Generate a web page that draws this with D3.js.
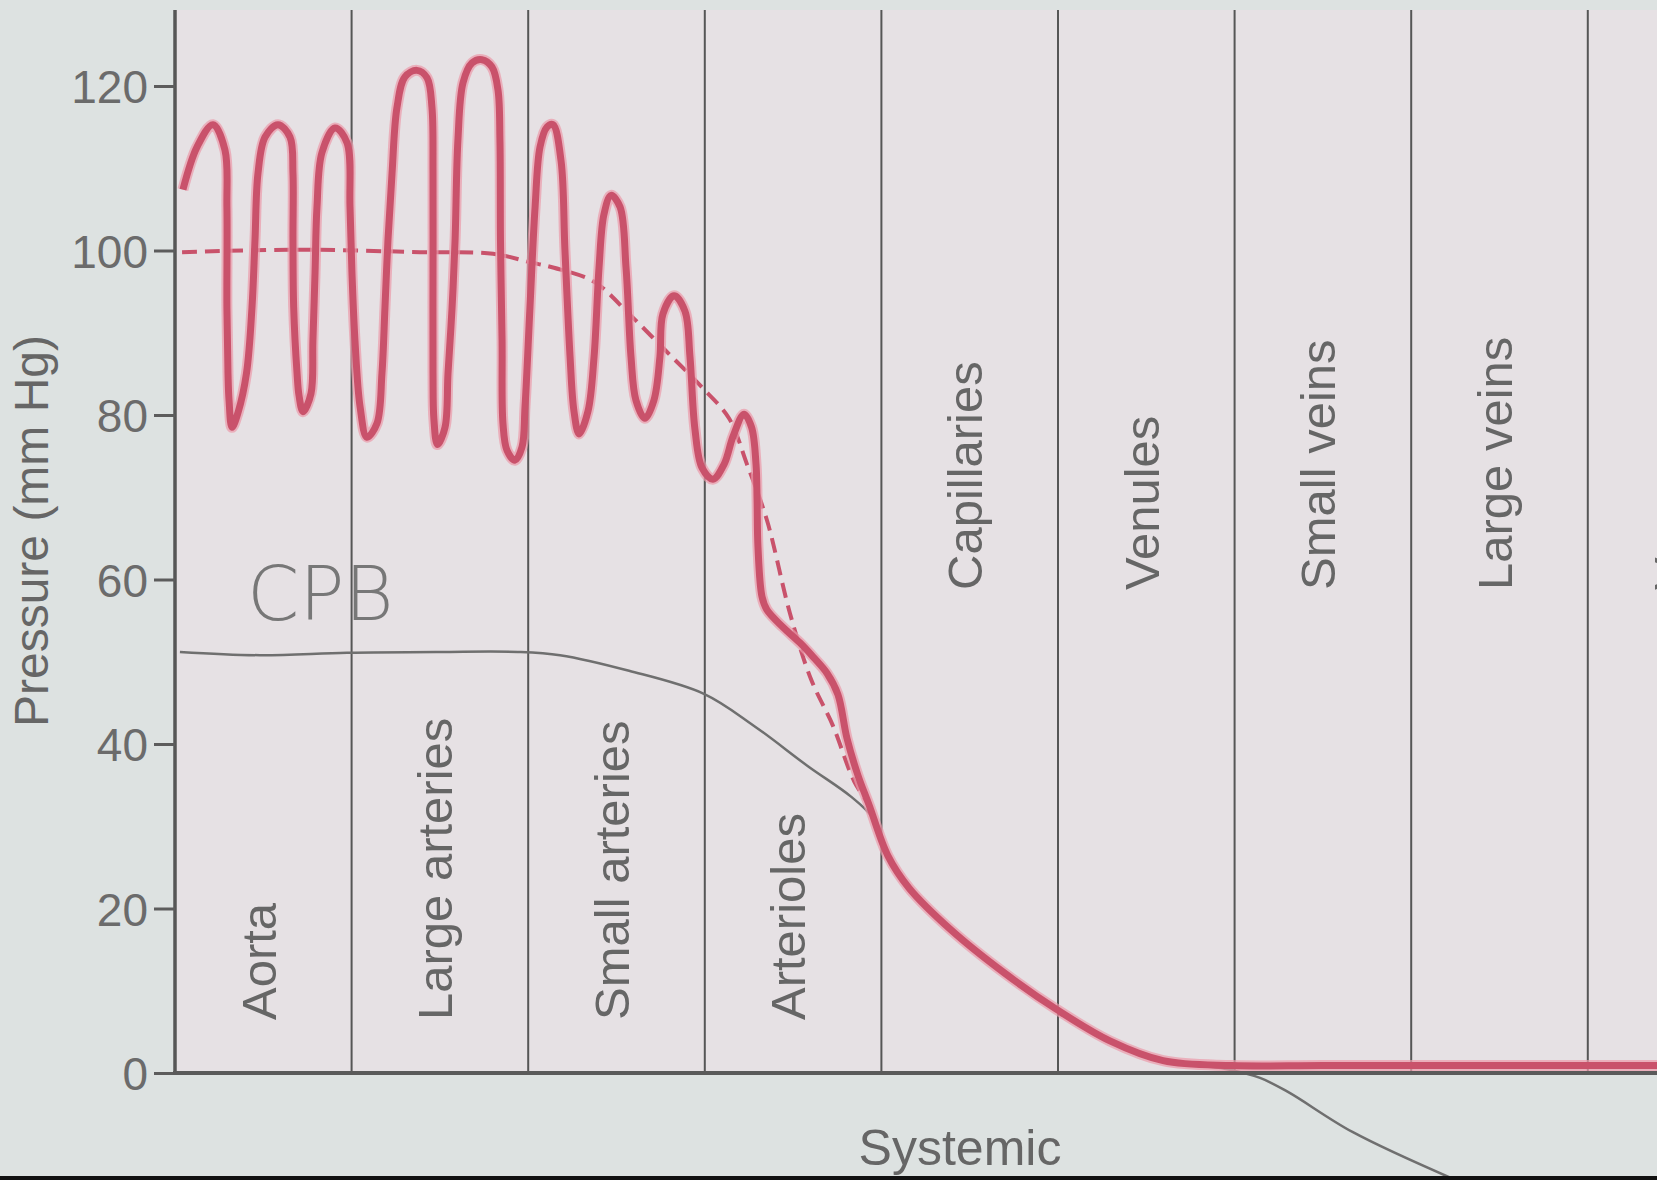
<!DOCTYPE html>
<html>
<head>
<meta charset="utf-8">
<script src="https://cdn.jsdelivr.net/npm/d3@7/dist/d3.min.js"></script>
<style>
    body { margin: 0; background: #dde2e1; }
    svg { display: block; }
    .tick text { font: 46px "Liberation Sans", Arial, sans-serif; fill: #6b6b6b; }
    .tick line { stroke: #5c5c5c; stroke-width: 3; }
    .label { font: 49px "Liberation Sans", Arial, sans-serif; fill: #666; }
    .pulse-halo { fill: none; stroke: #eb9aa9; stroke-width: 11; stroke-opacity: 0.7; }
    .pulse { fill: none; stroke: #c9526b; stroke-width: 7; stroke-linejoin: round; }
    .mean { fill: none; stroke: #c9526b; stroke-width: 4; stroke-dasharray: 15 8; }
    .cpb { fill: none; stroke: #6f6f6f; stroke-width: 2.5; }
</style>
</head>
<body>
<div id="chart"></div>
<script>
    // vessel segments along the systemic circuit, 100 units each
    var vessels = ["Aorta", "Large arteries", "Small arteries", "Arterioles",
        "Capillaries", "Venules", "Small veins", "Large veins", "Venae cavae"];
    var arterial = ["Aorta", "Large arteries", "Small arteries", "Arterioles"];
    var yTicks = [0, 20, 40, 60, 80, 100, 120];

    // pulsatile pressure trace (position, mm Hg)
    var pulseX = [4.5, 12.5, 21.5, 28.3, 29.4, 29.4, 30.0, 30.6, 32.3, 35.7,
        40.5, 43.6, 45.3, 47.0, 51.0, 58.3, 65.1, 66.8, 66.8, 67.2,
        69.1, 70.2, 72.5, 77.0, 78.1, 79.3, 80.4, 83.2, 90.6, 97.4,
        99.1, 100.2, 101.9, 104.8, 108.7, 114.4, 117.2, 118.9, 120.6, 122.9,
        125.7, 130.2, 137.0, 142.7, 145.5, 146.1, 146.1, 146.1, 146.6, 148.6,
        152.9, 154.6, 156.9, 158.6, 160.2, 163.1, 168.2, 173.8, 179.5, 182.9,
        184.0, 184.3, 185.2, 185.7, 188.0, 192.5, 196.5, 198.2, 201.0, 203.9,
        206.7, 210.6, 214.0, 218.6, 220.8, 223.7, 225.9, 228.8, 233.9, 237.3,
        240.1, 242.9, 246.9, 252.0, 255.4, 258.2, 261.0, 266.1, 271.2, 274.6,
        276.3, 282.6, 288.8, 291.6, 294.4, 298.4, 304.6, 310.9, 316.0, 322.2,
        326.5, 329.0, 329.6, 330.1, 332.4, 335.2, 344.3, 353.9, 361.3, 369.2,
        375.4, 380.5, 386.7, 393.0, 403.7, 415.6, 439.4, 469.4, 499.4, 529.4,
        559.5, 598.5, 650, 750, 850, 900];
    var pulseP = [107.4, 112.6, 115.3, 112.2, 105.3, 93.1, 85.1, 81.8, 78.5, 80.3,
        85.1, 93.1, 101.3, 109.4, 113.8, 115.3, 113.8, 109.4, 101.3, 93.1,
        85.1, 82.4, 80.4, 82.6, 89.1, 97.3, 105.3, 111.9, 114.9, 113.1,
        105.3, 97.3, 89.1, 81.0, 77.3, 79.0, 85.1, 93.1, 101.3, 109.4,
        117.4, 121.1, 121.9, 121.0, 117.4, 109.4, 97.3, 85.1, 79.5, 76.4,
        78.5, 85.1, 93.1, 101.3, 113.4, 120.4, 122.8, 123.2, 122.3, 119.5,
        113.4, 101.3, 89.1, 79.0, 75.7, 74.5, 76.1, 81.0, 93.1, 105.3,
        112.6, 115.0, 115.3, 110.9, 100.1, 87.1, 80.5, 77.7, 80.5, 87.1,
        97.9, 104.4, 106.7, 105.3, 97.9, 87.1, 81.8, 79.6, 81.8, 87.1,
        92.3, 94.5, 92.6, 87.1, 78.3, 73.6, 72.2, 74.0, 77.4, 80.1,
        78.5, 74.0, 69.7, 64.0, 57.9, 56.3, 54.2, 52.3, 50.6, 48.6,
        46.0, 40.7, 36.2, 32.6, 26.4, 22.5, 17.4, 12.2, 7.7, 3.9,
        1.5, 0.9, 0.9, 0.9, 0.9, 0.9];

    // mean pressure (dashed)
    var meanX = [4, 70.8, 138.7, 180.1, 200.5, 214.6, 237.3, 257.1, 277.5, 297.8,
        313.7, 323.9, 335.2, 348.2, 360.1, 372.6, 384.5, 393];
    var meanP = [99.8, 100.1, 99.8, 99.6, 98.6, 97.9, 96.2, 92.3, 87.9, 83.5,
        79.6, 74, 67.2, 55.9, 47.9, 42.2, 35.5, 32.6];

    // pencil line marked "CPB"
    var cpbX = [2.8, 48.1, 97.4, 150.1, 194.2, 218, 257.1, 299.5, 327.9, 358.4,
        382.8, 394.7, 403.7, 415.6, 439.4, 469.4, 499.4, 529.4, 559.5, 592.3,
        614.4, 630.2, 667, 725];
    var cpbP = [51.2, 50.8, 51.1, 51.2, 51.2, 50.8, 48.9, 46.1, 42.2, 37.3,
        33.6, 31.1, 26.4, 22.5, 17.4, 12.2, 7.7, 3.9, 1.5, 0.6,
        -0.6, -2.3, -7.2, -13];

    var width = 1657, height = 1180;
    var svg = d3.select("#chart").append("svg")
        .attr("width", width)
        .attr("height", height);

    var xScale = d3.scaleLinear().domain([0, 900]).range([175, 175 + 9 * 176.6]);
    var yScale = d3.scaleLinear().domain([0, 120]).range([1073, 86]);
    var plotTop = 10;

    svg.append("rect").attr("width", width).attr("height", height).attr("fill", "#dde2e1");
    svg.append("rect")
        .attr("x", xScale(0)).attr("y", plotTop)
        .attr("width", width - xScale(0)).attr("height", yScale(0) - plotTop)
        .attr("fill", "#e6e1e4");

    // segment borders
    svg.selectAll("line.border").data(d3.range(vessels.length + 1)).enter()
        .append("line")
        .attr("class", "border")
        .attr("x1", function (d) { return xScale(d * 100); })
        .attr("x2", function (d) { return xScale(d * 100); })
        .attr("y1", plotTop)
        .attr("y2", yScale(0))
        .attr("stroke", "#565656")
        .attr("stroke-width", function (d) { return d === 0 ? 3.5 : 2; });

    // vessel names
    svg.selectAll("text.label").data(vessels).enter()
        .append("text")
        .attr("class", "label")
        .attr("transform", function (d, i) {
            var yStart = arterial.indexOf(d) >= 0 ? 1020 : 590;
            return "translate(" + xScale(i * 100 + 50) + "," + yStart + ") rotate(-90)";
        })
        .attr("dy", "0.25em")
        .text(function (d) { return d; });

    // y axis
    var yAxis = d3.axisLeft(yScale).tickValues(yTicks).tickSize(21).tickPadding(6);
    var gy = svg.append("g")
        .attr("transform", "translate(" + xScale(0) + ",0)")
        .call(yAxis);
    gy.select(".domain").remove();
    gy.selectAll(".tick text").attr("dy", "0.36em");

    svg.append("text")
        .attr("class", "label")
        .attr("transform", "translate(48,531) rotate(-90)")
        .attr("text-anchor", "middle")
        .style("font-size", "48px")
        .text("Pressure (mm Hg)");

    svg.append("text")
        .attr("class", "label")
        .attr("x", 960).attr("y", 1165)
        .attr("text-anchor", "middle")
        .style("font-size", "50px")
        .text("Systemic");

    var line = d3.line()
        .x(function (d) { return xScale(d[0]); })
        .y(function (d) { return yScale(d[1]); })
        .curve(d3.curveCatmullRom.alpha(0.5));

    // pencil line
    svg.append("path")
        .datum(d3.zip(cpbX, cpbP))
        .attr("class", "cpb")
        .attr("d", line);

    svg.append("text")
        .attr("x", 247).attr("y", 620)
        .attr("font-family", "DejaVu Sans")
        .attr("font-weight", 200)
        .attr("font-size", 75)
        .attr("fill", "#777")
        .text("CPB");

    svg.append("path")
        .datum(d3.zip(meanX, meanP))
        .attr("class", "mean")
        .attr("d", line);

    var pulse = d3.zip(pulseX, pulseP);
    svg.append("path").datum(pulse).attr("class", "pulse-halo").attr("d", line);
    svg.append("path").datum(pulse).attr("class", "pulse").attr("d", line);

    // x axis base line
    svg.append("line")
        .attr("x1", xScale(0) - 2).attr("x2", width)
        .attr("y1", yScale(0)).attr("y2", yScale(0))
        .attr("stroke", "#5a5a5a")
        .attr("stroke-width", 4);

    svg.append("rect").attr("x", 0).attr("y", 1176).attr("width", width).attr("height", 4).attr("fill", "#111");
</script>
</body>
</html>
